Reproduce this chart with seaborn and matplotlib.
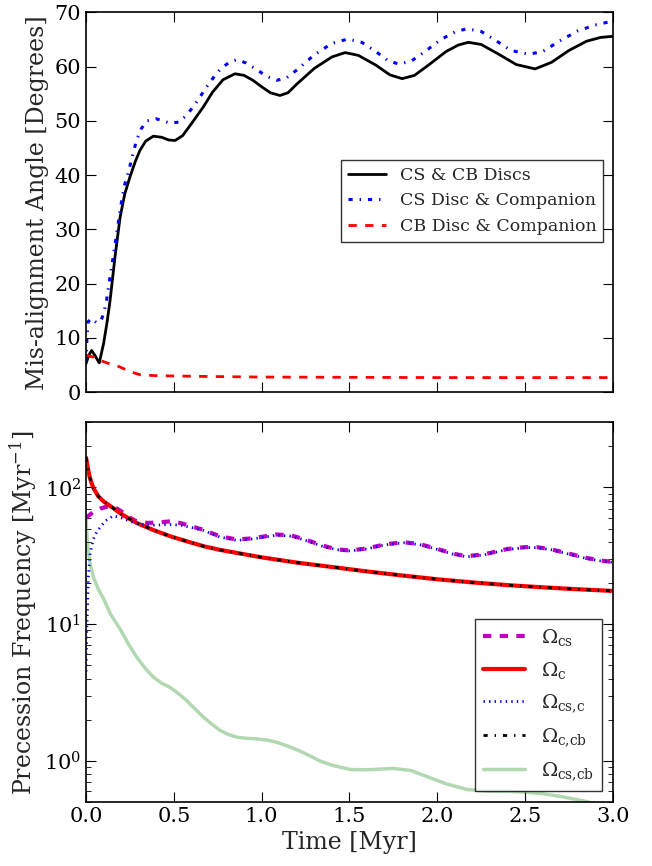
import numpy as np
import pandas as pd
import matplotlib
matplotlib.use("Agg")
import matplotlib.pyplot as plt
import seaborn as sns

# ---------------- data ----------------
# Top panel: mis-alignment angles [deg]
t_cscb = [0.0, 0.015, 0.032, 0.05, 0.075, 0.10, 0.12, 0.137, 0.165, 0.194, 0.22, 0.25,
          0.28, 0.307, 0.34, 0.383, 0.43, 0.47, 0.507, 0.55, 0.6, 0.668, 0.72, 0.78,
          0.848, 0.9, 0.95, 1.0, 1.05, 1.104, 1.15, 1.2, 1.3, 1.4, 1.475, 1.55, 1.65,
          1.73, 1.8, 1.87, 1.95, 2.05, 2.12, 2.177, 2.25, 2.35, 2.45, 2.557, 2.65,
          2.75, 2.85, 2.93, 3.0]
a_cscb = [5.3, 6.8, 7.7, 6.8, 5.4, 9.0, 13.0, 17.0, 25.0, 32.3, 36.5, 39.7,
          42.5, 44.6, 46.3, 47.2, 47.0, 46.5, 46.4, 47.3, 49.5, 52.6, 55.3, 57.6,
          58.7, 58.4, 57.5, 56.3, 55.2, 54.7, 55.2, 56.8, 59.7, 61.8, 62.6, 62.1, 60.3,
          58.5, 57.8, 58.4, 60.3, 62.8, 64.0, 64.5, 64.1, 62.3, 60.4, 59.6, 60.8,
          63.0, 64.7, 65.4, 65.6]

t_csc = [0.0, 0.005, 0.012, 0.03, 0.06, 0.085, 0.1, 0.117, 0.135, 0.155, 0.18, 0.203,
         0.22, 0.24, 0.265, 0.288, 0.315, 0.345, 0.4, 0.44, 0.477, 0.53, 0.57, 0.61,
         0.65, 0.687, 0.73, 0.763, 0.81, 0.858, 0.91, 0.97, 1.03, 1.085, 1.14, 1.2,
         1.3, 1.4, 1.49, 1.57, 1.65, 1.72, 1.78, 1.85, 1.93, 2.02, 2.1, 2.168, 2.25,
         2.33, 2.42, 2.52, 2.6, 2.7, 2.8, 2.9, 2.97, 3.0]
a_csc = [5.5, 10.0, 13.0, 13.6, 12.8, 13.2, 14.5, 17.0, 21.0, 25.0, 30.5, 35.4,
         38.3, 40.4, 43.7, 46.5, 48.6, 50.0, 50.4, 50.0, 49.6, 49.8, 51.0, 52.6,
         54.5, 56.3, 58.2, 59.5, 60.7, 61.3, 60.7, 59.5, 58.2, 57.5, 57.9, 59.4,
         62.2, 64.3, 65.1, 64.5, 62.8, 61.1, 60.5, 61.0, 62.8, 65.0, 66.4, 67.0, 66.5,
         64.9, 63.0, 62.3, 62.8, 64.8, 66.6, 67.7, 68.2, 68.3]

t_cbc = [0.0, 0.04, 0.076, 0.12, 0.19, 0.25, 0.31, 0.4, 0.5, 0.7, 1.0, 1.5, 2.0, 2.5, 3.0]
a_cbc = [6.8, 6.5, 5.9, 5.4, 4.7, 3.8, 3.2, 3.05, 3.0, 2.9, 2.8, 2.75, 2.7, 2.7, 2.7]

# Bottom panel: precession frequencies [Myr^-1]
t_c = [0.0, 0.01, 0.02, 0.032, 0.042, 0.07, 0.1, 0.155, 0.2, 0.288, 0.38, 0.478, 0.57,
       0.668, 0.76, 0.858, 1.0, 1.2, 1.4, 1.6, 1.8, 2.0, 2.2, 2.4, 2.6, 2.8, 3.0]
w_c = [165, 140, 120, 107, 99, 86, 79, 70.6, 64, 55, 49, 44, 40.5,
       37.2, 35, 33.2, 30.8, 28.2, 26.2, 24.3, 22.7, 21.3, 20.2, 19.3, 18.6, 18.0, 17.5]
w_ccb = list(w_c)

t_cs = [0.0, 0.04, 0.08, 0.12, 0.155, 0.2, 0.25, 0.288, 0.35, 0.42, 0.478, 0.535, 0.6,
        0.668, 0.76, 0.858, 0.95, 1.085, 1.17, 1.25, 1.35, 1.43, 1.503, 1.6, 1.7,
        1.807, 1.9, 2.0, 2.09, 2.168, 2.27, 2.4, 2.5, 2.567, 2.65, 2.75, 2.85, 2.93, 3.0]
w_cs = [60, 66, 70, 72.5, 72.8, 67, 60, 56.5, 55, 55.5, 56.5, 55, 52,
        49, 44, 41.6, 42.5, 45.3, 44.5, 41.5, 37.5, 35.2, 34.6, 35.8, 38.3,
        39.8, 38.5, 35.5, 32.8, 31.4, 32.5, 35.5, 36.6, 36.6, 35.2, 32.8, 30.5, 29.2, 28.5]

t_csc2 = [0.0, 0.004, 0.008, 0.013, 0.023, 0.042, 0.06, 0.08, 0.11, 0.155, 0.2, 0.25,
          0.3, 0.38, 0.478, 0.535, 0.6, 0.668, 0.76, 0.858, 0.95, 1.085, 1.17, 1.25,
          1.35, 1.43, 1.503, 1.6, 1.7, 1.807, 1.9, 2.0, 2.09, 2.168, 2.27, 2.4, 2.5,
          2.567, 2.65, 2.75, 2.85, 2.93, 3.0]
w_csc = [4.5, 9, 13, 22, 33, 42, 47, 51, 57, 62, 60, 56.5,
         54, 53, 53.5, 53, 51, 48.5, 43.5, 41, 42, 44.8, 44, 41,
         37, 35, 34.3, 35.5, 38, 39.4, 38.2, 35.2, 32.5, 31.1, 32.2, 35.2, 36.3,
         36.3, 35, 32.5, 30.2, 29, 28.3]

t_cscb2 = [0.0, 0.005, 0.013, 0.025, 0.042, 0.07, 0.1, 0.14, 0.194, 0.24, 0.29, 0.34,
           0.383, 0.43, 0.478, 0.52, 0.573, 0.62, 0.668, 0.72, 0.763, 0.81, 0.858,
           0.92, 0.97, 1.03, 1.085, 1.15, 1.218, 1.28, 1.33, 1.4, 1.503, 1.6, 1.75,
           1.85, 1.95, 2.05, 2.168, 2.28, 2.4, 2.5, 2.6, 2.7, 2.83, 2.95, 3.0]
w_cscb = [60, 45, 34, 27, 22, 18, 15.3, 11.8, 9.2, 7.2, 5.7, 4.7,
          4.1, 3.7, 3.45, 3.15, 2.76, 2.4, 2.09, 1.84, 1.67, 1.56, 1.49,
          1.46, 1.45, 1.42, 1.37, 1.28, 1.18, 1.08, 1.0, 0.93, 0.865, 0.86, 0.88,
          0.85, 0.76, 0.68, 0.618, 0.60, 0.60, 0.59, 0.575, 0.55, 0.51, 0.47, 0.46]

# ---------------- style ----------------
sns.set_style("ticks")
plt.rcParams.update({
    "font.family": ["DejaVu Serif"],
    "mathtext.fontset": "dejavuserif",
    "xtick.direction": "in",
    "ytick.direction": "in",
    "xtick.top": True,
    "ytick.right": True,
    "xtick.major.size": 7,
    "ytick.major.size": 7,
    "xtick.minor.size": 3.5,
    "ytick.minor.size": 3.5,
    "axes.edgecolor": "black",
    "axes.linewidth": 1.2,
    "xtick.color": "black",
    "ytick.color": "black",
    "axes.grid": False,
    "lines.scale_dashes": False,
    "lines.dashed_pattern": [6, 6],
    "lines.dashdot_pattern": [3, 5, 1, 5],
    "lines.dotted_pattern": [1, 3],
})

fig, (ax1, ax2) = plt.subplots(2, 1, figsize=(6.52, 8.66), dpi=100)
fig.subplots_adjust(left=0.132, right=0.94, top=0.9856, bottom=0.0739, hspace=0.079)

# ---- top panel ----
sns.lineplot(x=t_cscb, y=a_cscb, ax=ax1, color="k", lw=2.0, label="CS & CB Discs")
sns.lineplot(x=t_csc, y=a_csc, ax=ax1, color="b", lw=2.2, linestyle="-.",
             label="CS Disc & Companion")
sns.lineplot(x=t_cbc, y=a_cbc, ax=ax1, color="r", lw=2.0, linestyle="--",
             label="CB Disc & Companion")
ax1.set_xlim(0, 3)
ax1.set_ylim(0, 70)
ax1.set_yticks(np.arange(0, 71, 10))
ax1.set_xticks(np.arange(0, 3.01, 0.5))
ax1.set_xticklabels([])
ax1.set_xlabel("")
ax1.set_ylabel("Mis-alignment Angle [Degrees]", fontsize=17)
ax1.tick_params(labelsize=15)
leg1 = ax1.legend(loc="upper right", bbox_to_anchor=(0.982, 0.612), borderaxespad=0,
                  fontsize=12.5, frameon=True, fancybox=False, handlelength=2.2)
leg1.get_frame().set_edgecolor("black")
leg1.get_frame().set_linewidth(1.0)

# ---- bottom panel ----
sns.lineplot(x=t_cs, y=w_cs, ax=ax2, color="m", lw=3.0, linestyle="--",
             label=r"$\Omega_{\rm cs}$")
sns.lineplot(x=t_c, y=w_c, ax=ax2, color="r", lw=3.0, label=r"$\Omega_{\rm c}$")
sns.lineplot(x=t_csc2, y=w_csc, ax=ax2, color="b", lw=2.0, linestyle=":",
             label=r"$\Omega_{\rm cs{,}c}$")
sns.lineplot(x=t_c, y=w_ccb, ax=ax2, color="k", lw=2.0, linestyle="-.",
             label=r"$\Omega_{\rm c{,}cb}$")
sns.lineplot(x=t_cscb2, y=w_cscb, ax=ax2, color="g", lw=2.5, alpha=0.3,
             label=r"$\Omega_{\rm cs{,}cb}$")
ax2.set_yscale("log")
ax2.set_xlim(0, 3)
ax2.set_ylim(0.5, 300)
ax2.set_xticks(np.arange(0, 3.01, 0.5))
ax2.set_xticklabels([f"{v:.1f}" for v in np.arange(0, 3.01, 0.5)])
ax2.set_xlabel("Time [Myr]", fontsize=17)
ax2.set_ylabel(r"Precession Frequency [Myr$^{-1}$]", fontsize=17)
ax2.tick_params(labelsize=15)
ax2.tick_params(which="minor", right=True, direction="in")
leg2 = ax2.legend(loc="lower right", bbox_to_anchor=(0.979, 0.03), borderaxespad=0,
                  fontsize=14, frameon=True, fancybox=False, handlelength=2.2,
                  labelspacing=0.6)
leg2.get_frame().set_edgecolor("black")
leg2.get_frame().set_linewidth(1.0)

for ax in (ax1, ax2):
    for s in ax.spines.values():
        s.set_visible(True)
        s.set_color("black")

fig.savefig("out.png", dpi=100)
